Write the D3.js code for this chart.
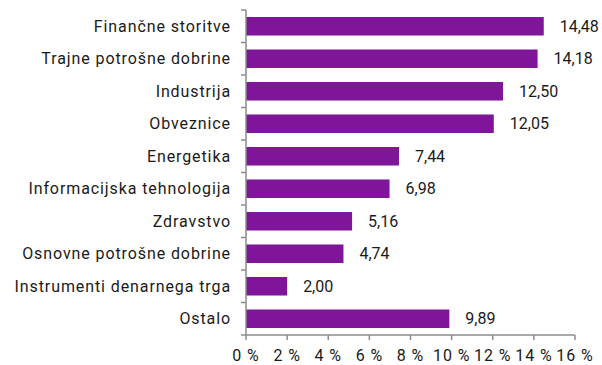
<!DOCTYPE html>
<html>
<head>
<meta charset="utf-8">
<script src="https://cdn.jsdelivr.net/npm/d3@7/dist/d3.min.js"></script>
<style>
  body { margin: 0; background: #fff; }
  svg { display: block; }
  text { font-family: Roboto, "Noto Sans", sans-serif; fill: #1a1a1a; letter-spacing: 0.9px; }
  text.value { letter-spacing: 0; }
</style>
</head>
<body>
<svg id="chart" width="602" height="365"></svg>
<script>
// Sector weights (%)
const categories = [
  "Finančne storitve",
  "Trajne potrošne dobrine",
  "Industrija",
  "Obveznice",
  "Energetika",
  "Informacijska tehnologija",
  "Zdravstvo",
  "Osnovne potrošne dobrine",
  "Instrumenti denarnega trga",
  "Ostalo"
];
const values = [14.48, 14.18, 12.50, 12.05, 7.44, 6.98, 5.16, 4.74, 2.00, 9.89];
const xTicks = [0, 2, 4, 6, 8, 10, 12, 14, 16];

const svg = d3.select("#chart");
const plot = { left: 246, right: 575, top: 10, bottom: 335 };
const fontSize = 16;
const axisColor = "#8c8c8c";
const barColor = "#7f1699";

const x = d3.scaleLinear().domain([0, 16]).range([plot.left, plot.right]);
const y = d3.scaleBand().domain(categories).range([plot.top, plot.bottom])
  .paddingInner(0.43).paddingOuter(0.215);

const fmt = v => v.toFixed(2).replace(".", ",");

// Bars
svg.append("g").selectAll("rect")
  .data(values)
  .join("rect")
  .attr("x", x(0))
  .attr("y", (d, i) => y(categories[i]))
  .attr("width", d => x(d) - x(0))
  .attr("height", y.bandwidth())
  .attr("fill", barColor);

// Value labels
svg.append("g").selectAll("text")
  .data(values)
  .join("text")
  .attr("class", "value")
  .attr("x", d => x(d) + 16)
  .attr("y", (d, i) => y(categories[i]) + y.bandwidth() / 2)
  .attr("dy", "0.35em")
  .attr("font-size", fontSize)
  .text(fmt);

// Category axis
const yAxis = svg.append("g");
yAxis.append("line")
  .attr("x1", plot.left).attr("x2", plot.left)
  .attr("y1", plot.top).attr("y2", plot.bottom)
  .attr("stroke", axisColor).attr("stroke-width", 1.5);
const boundaries = d3.range(categories.length + 1)
  .map(i => plot.top + i * (plot.bottom - plot.top) / categories.length);
yAxis.selectAll("line.tick")
  .data(boundaries)
  .join("line")
  .attr("class", "tick")
  .attr("x1", plot.left - 5).attr("x2", plot.left)
  .attr("y1", d => d).attr("y2", d => d)
  .attr("stroke", axisColor).attr("stroke-width", 1.5);
yAxis.selectAll("text")
  .data(categories)
  .join("text")
  .attr("x", plot.left - 15)
  .attr("y", d => y(d) + y.bandwidth() / 2)
  .attr("dy", "0.35em")
  .attr("text-anchor", "end")
  .attr("font-size", fontSize)
  .text(d => d);

// Value axis
const xAxis = svg.append("g");
xAxis.append("line")
  .attr("x1", plot.left).attr("x2", plot.right)
  .attr("y1", plot.bottom).attr("y2", plot.bottom)
  .attr("stroke", axisColor).attr("stroke-width", 1.5);
xAxis.selectAll("line.tick")
  .data(xTicks)
  .join("line")
  .attr("class", "tick")
  .attr("x1", d => x(d)).attr("x2", d => x(d))
  .attr("y1", plot.bottom).attr("y2", plot.bottom + 5)
  .attr("stroke", axisColor).attr("stroke-width", 1.5);
xAxis.selectAll("text")
  .data(xTicks)
  .join("text")
  .attr("x", d => x(d))
  .attr("y", 361)
  .attr("text-anchor", "middle")
  .attr("font-size", fontSize)
  .text(d => d + " %");
</script>
</body>
</html>
